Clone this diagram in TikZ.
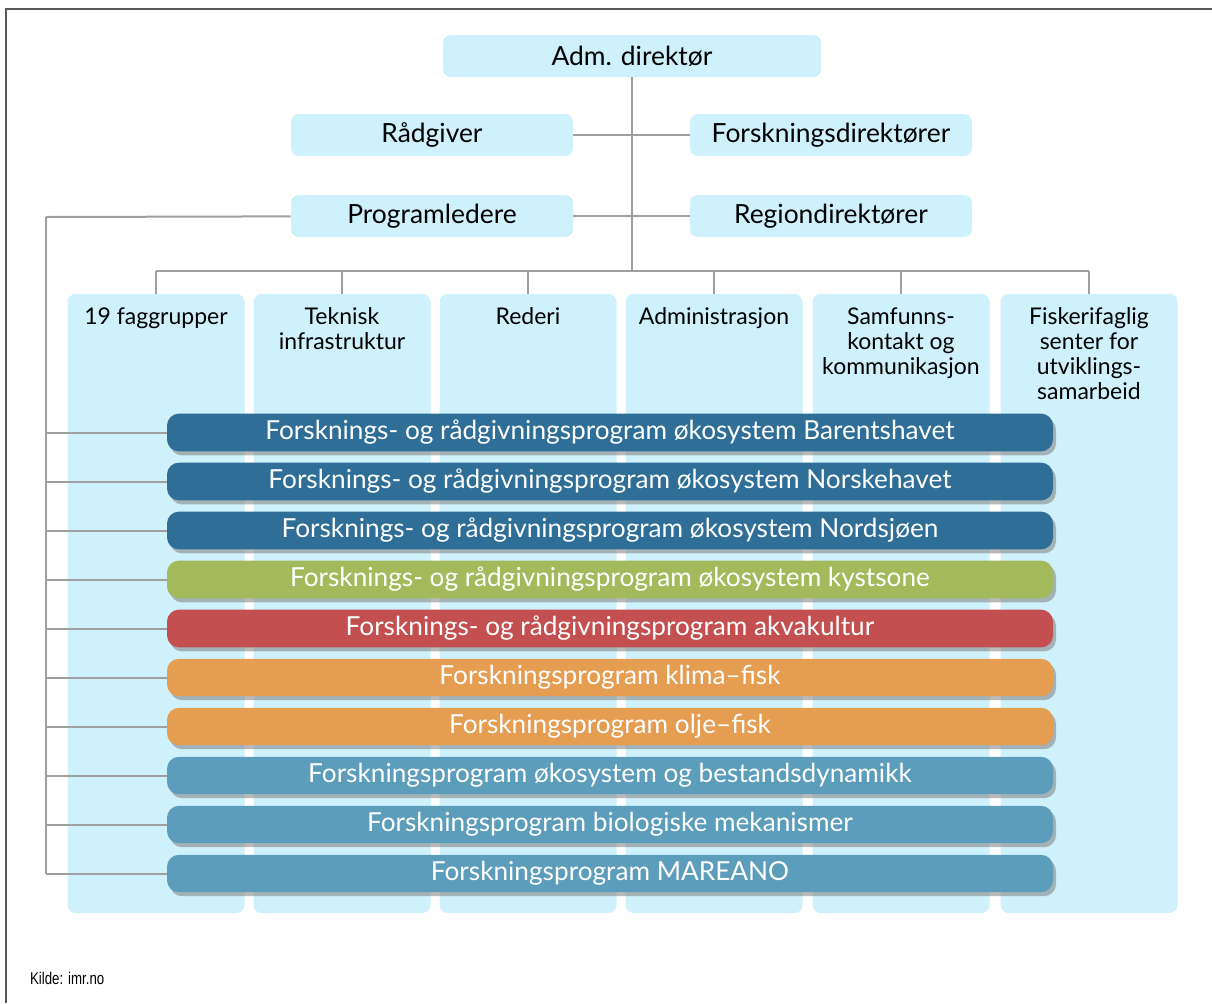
\documentclass[tikz,border=0pt]{standalone}
\usepackage{fontspec}
\setmainfont{Lato}
\newfontfamily\srcfont[FakeStretch=0.78]{Liberation Sans}
\usetikzlibrary{positioning,shadows}

\definecolor{boxblue}{RGB}{206,241,251}
\definecolor{havblue}{RGB}{47,110,151}
\definecolor{kystgreen}{RGB}{163,186,92}
\definecolor{akvared}{RGB}{196,79,81}
\definecolor{fiskorange}{RGB}{229,157,82}
\definecolor{progblue}{RGB}{91,157,186}

\tikzset{
  box/.style={fill=boxblue, rounded corners=4pt, minimum width=141pt,
    minimum height=21pt, font=\fontsize{13.2}{15}\selectfont},
  col/.style={fill=boxblue, rounded corners=4pt, minimum width=88.5pt,
    minimum height=309.5pt},
  coltxt/.style={align=center, inner sep=0pt,
    font=\fontsize{11.5}{12.5}\selectfont},
  bar/.style={fill=#1, rounded corners=6pt, minimum width=443pt,
    minimum height=16.5pt, text=white, font=\fontsize{13.1}{15}\selectfont,
    drop shadow={shadow xshift=1.5pt, shadow yshift=-2pt,
      fill=black!50, opacity=.55}},
  line/.style={draw=gray!75, line width=1pt},
}

\begin{document}
\begin{tikzpicture}[x=0.5pt, y=-0.5pt]
  \useasboundingbox (0,0) rectangle (1212,1003);
  \draw[gray!70!black, line width=1pt] (6,1003) -- (6,9) -- (1212,9);

  % ledelse
  \node[box, minimum width=189pt] (adm) at (632,56) {Adm. direktør};
  \node[box] (raad) at (432,135) {Rådgiver};
  \node[box] (fdir) at (831,135) {Forskningsdirektører};
  \node[box] (prog) at (432,216) {Programledere};
  \node[box] (rdir) at (831,216) {Regiondirektører};

  \coordinate (bus) at (632,271);
  \coordinate (lft) at (46,217);

  % avdelinger
  \node[col] (c1) at (156,603.5) {};
  \node[col] (c2) at (342,603.5) {};
  \node[col] (c3) at (528,603.5) {};
  \node[col] (c4) at (714,603.5) {};
  \node[col] (c5) at (901,603.5) {};
  \node[col] (c6) at (1089,603.5) {};
  \node[coltxt, below=7pt of c1.north] {19 faggrupper};
  \node[coltxt, below=7pt of c2.north] {Teknisk\\infrastruktur};
  \node[coltxt, below=7pt of c3.north] {Rederi};
  \node[coltxt, below=7pt of c4.north] {Administrasjon};
  \node[coltxt, below=7pt of c5.north] {Samfunns-\\kontakt og\\kommunikasjon};
  \node[coltxt, below=7pt of c6.north] {Fiskerifaglig\\senter for\\utviklings-\\samarbeid};

  % programmer
  \node[bar=havblue] (b1) at (610,432.5) {Forsknings- og rådgivningsprogram økosystem Barentshavet};
  \node[bar=havblue] (b2) at (610,481.5) {Forsknings- og rådgivningsprogram økosystem Norskehavet};
  \node[bar=havblue] (b3) at (610,530.5) {Forsknings- og rådgivningsprogram økosystem Nordsjøen};
  \node[bar=kystgreen] (b4) at (610,579.5) {Forsknings- og rådgivningsprogram økosystem kystsone};
  \node[bar=akvared] (b5) at (610,628.5) {Forsknings- og rådgivningsprogram akvakultur};
  \node[bar=fiskorange] (b6) at (610,677.5) {Forskningsprogram klima–fisk};
  \node[bar=fiskorange] (b7) at (610,726.5) {Forskningsprogram olje–fisk};
  \node[bar=progblue] (b8) at (610,775.5) {Forskningsprogram økosystem og bestandsdynamikk};
  \node[bar=progblue] (b9) at (610,824.5) {Forskningsprogram biologiske mekanismer};
  \node[bar=progblue] (b10) at (610,873.5) {Forskningsprogram MAREANO};

  \node[font=\srcfont\fontsize{8.5}{10}\selectfont, anchor=west] (kilde) at (23,978) {Kilde: imr.no};

  % linjer
  \path[line]
    (adm) edge (adm.south |- bus)
    (raad) edge (fdir)
    (prog) edge (rdir)
    (prog) edge (lft)
    (lft) edge (lft |- b10)
    (c1.north |- bus) edge (c6.north |- bus)
    (c1) edge (c1.north |- bus)
    (c2) edge (c2.north |- bus)
    (c3) edge (c3.north |- bus)
    (c4) edge (c4.north |- bus)
    (c5) edge (c5.north |- bus)
    (c6) edge (c6.north |- bus)
    (b1) edge (b1 -| lft)
    (b2) edge (b2 -| lft)
    (b3) edge (b3 -| lft)
    (b4) edge (b4 -| lft)
    (b5) edge (b5 -| lft)
    (b6) edge (b6 -| lft)
    (b7) edge (b7 -| lft)
    (b8) edge (b8 -| lft)
    (b9) edge (b9 -| lft)
    (b10) edge (b10 -| lft);
\end{tikzpicture}
\end{document}
